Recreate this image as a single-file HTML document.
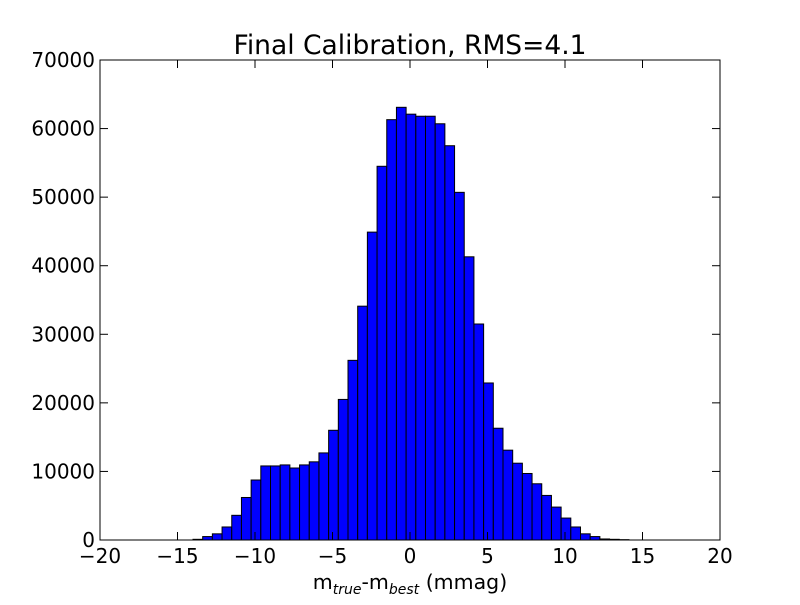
<!DOCTYPE html>
<html><head><meta charset="utf-8"><style>
body{margin:0;background:#fff}
svg text{font-family:"DejaVu Sans","Liberation Sans",sans-serif;fill:#000}
</style></head><body>
<svg id="chart" width="800" height="600">
<rect width="800" height="600" fill="#fff"/>
<text x="410" y="54" font-size="26.5" text-anchor="middle">Final Calibration, RMS=4.1</text>
<g id="bars"></g>
<g id="axes"></g>
<text x="410" y="589" font-size="20.5" text-anchor="middle">m<tspan font-size="14" font-style="italic" dy="5">true</tspan><tspan dy="-5">-m</tspan><tspan font-size="14" font-style="italic" dy="5">best</tspan><tspan dy="-5"> (mmag)</tspan></text>
</svg>
<script>
const binStart = -14.0;
const binWidth = 0.625;
const counts = [100,500,900,1900,3600,6200,8750,10800,10800,10950,10500,10950,11400,12700,16000,20500,26200,34100,44900,54500,61300,63100,62100,61800,61800,60700,57500,50700,41300,31500,22900,16300,13100,11200,9700,8200,6500,4800,3200,1900,900,500,150,100,50];
const xTicks = [-20,-15,-10,-5,0,5,10,15,20];
const yTicks = [0,10000,20000,30000,40000,50000,60000,70000];
const X0=100,X1=720,Y0=540,Y1=60;
const xs=v=>X0+(v+20)/40*(X1-X0);
const ys=v=>Y0-v/70000*(Y0-Y1);
const NS="http://www.w3.org/2000/svg";
const bars=document.getElementById('bars');
counts.forEach((c,i)=>{
  const r=document.createElementNS(NS,'rect');
  const a=xs(binStart+i*binWidth), b=xs(binStart+(i+1)*binWidth);
  r.setAttribute('x',a);r.setAttribute('width',b-a);
  r.setAttribute('y',ys(c));r.setAttribute('height',Y0-ys(c));
  r.setAttribute('fill','#0000ff');r.setAttribute('stroke','#000');r.setAttribute('stroke-width','1');
  
  
  bars.appendChild(r);
});
const ax=document.getElementById('axes');
function ln(x1,y1,x2,y2,name){const l=document.createElementNS(NS,'line');
l.setAttribute('x1',x1);l.setAttribute('y1',y1);l.setAttribute('x2',x2);l.setAttribute('y2',y2);
l.setAttribute('stroke','#000');l.setAttribute('stroke-width','1');


ax.appendChild(l);}
function tx(x,y,s,anchor,name){const t=document.createElementNS(NS,'text');
t.setAttribute('x',x);t.setAttribute('y',y);t.setAttribute('font-size','20');t.setAttribute('text-anchor',anchor);t.textContent=s;


ax.appendChild(t);}
const f=document.createElementNS(NS,'rect');
f.setAttribute('x',X0);f.setAttribute('y',Y1);f.setAttribute('width',X1-X0);f.setAttribute('height',Y0-Y1);
f.setAttribute('fill','none');f.setAttribute('stroke','#000');f.setAttribute('stroke-width','1');


ax.appendChild(f);
xTicks.forEach(v=>{const x=xs(v);ln(x,Y0,x,Y0-8,'x-tick');ln(x,Y1,x,Y1+8,'x-tick-top');
tx(x,Y0+23,(v<0?'\u2212':'')+Math.abs(v),'middle','x-tick-label');});
yTicks.forEach(v=>{const y=ys(v);ln(X0,y,X0+8,y,'y-tick');ln(X1,y,X1-8,y,'y-tick-right');
tx(X0-5,y+7,String(v),'end','y-tick-label');});
</script>
</body></html>
